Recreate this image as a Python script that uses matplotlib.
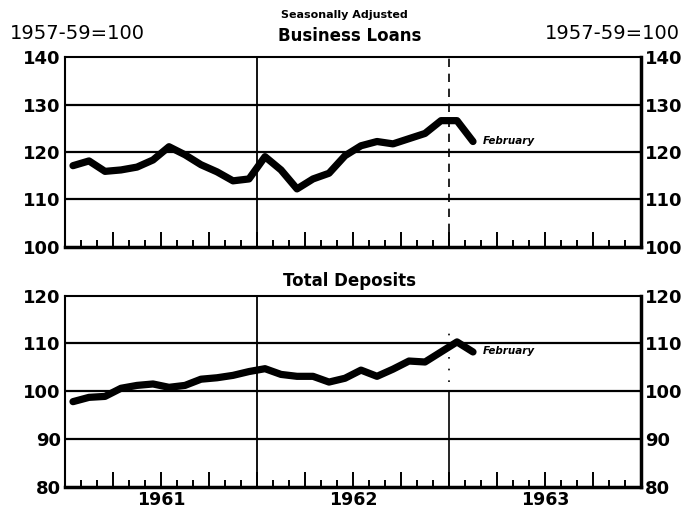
import matplotlib.pyplot as plt
import numpy as np

# monthly data, Jan 1961 .. Feb 1963 (1957-59=100)
months = np.arange(26) + 0.5
loans = [117.1, 118.1, 115.9, 116.2, 116.8, 118.3, 121.1, 119.4, 117.3, 115.8,
         113.9, 114.3, 119.0, 116.2, 112.2, 114.3, 115.5, 119.2, 121.3, 122.2,
         121.7, 122.8, 123.9, 126.6, 126.6, 122.2]
deposits = [97.8, 98.7, 98.9, 100.6, 101.2, 101.5, 100.8, 101.2, 102.5, 102.8,
            103.3, 104.1, 104.7, 103.5, 103.1, 103.1, 101.9, 102.7, 104.4, 103.1,
            104.6, 106.3, 106.1, 108.2, 110.3, 108.2]
years = ["1961", "1962", "1963"]

plt.rcParams['font.family'] = ['DejaVu Sans']

fig = plt.figure(figsize=(6.82, 5.18), dpi=100)
ax1 = fig.add_axes([0.0953, 0.5237, 0.8446, 0.366])
ax2 = fig.add_axes([0.0953, 0.0604, 0.8446, 0.369])


def style(ax, lo, hi):
    ax.set_xlim(0, 36)
    ax.set_ylim(lo, hi)
    ticks = list(range(lo, hi + 1, 10))
    ax.set_yticks(ticks)
    ax.tick_params(axis='y', length=0, labelright=True, labelsize=13, pad=3)
    for lab in ax.get_yticklabels():
        lab.set_fontweight('bold')
    for t in ticks[1:-1]:
        ax.axhline(t, color='black', lw=1.6, zorder=1)
    ax.set_xticks(np.arange(3, 36, 3))
    ax.set_xticks(np.arange(1, 36), minor=True)
    ax.tick_params(axis='x', which='major', direction='in', length=11, width=1.4,
                   labelbottom=False)
    ax.tick_params(axis='x', which='minor', direction='in', length=5, width=1.4)
    for s in ['left', 'top']:
        ax.spines[s].set_linewidth(1.5)
    ax.spines['right'].set_linewidth(2.5)
    ax.spines['bottom'].set_linewidth(2.5)
    ax.axvline(12, color='black', lw=1.3, zorder=1)


style(ax1, 100, 140)
style(ax2, 80, 120)

ax1.axvline(24, color='black', lw=1.2, ls=(0, (5, 4)), zorder=1)
ax2.plot([24, 24], [80, 100], color='black', lw=1.2, zorder=1)
ax2.plot([24, 24], [102, 114], color='black', lw=1.2, ls=(0, (1, 6)), zorder=1)

ax1.plot(months, loans, color='black', lw=5.2, solid_capstyle='round',
         solid_joinstyle='round', zorder=3)
ax2.plot(months, deposits, color='black', lw=5.2, solid_capstyle='round',
         solid_joinstyle='round', zorder=3)

ax1.text(26.1, loans[-1] + 0.1, "February", fontsize=7.5, fontweight='bold',
         style='italic', va='center')
ax2.text(26.1, deposits[-1] + 0.1, "February", fontsize=7.5, fontweight='bold',
         style='italic', va='center')

for i, y in enumerate(years):
    ax2.text(12 * i + 6, -0.07, y, transform=ax2.get_xaxis_transform(),
             ha='center', va='center', fontsize=12.5, fontweight='bold')

fig.text(0.505, 0.971, "Seasonally Adjusted", ha='center', va='center',
         fontsize=8, fontweight='bold')
fig.text(0.014, 0.935, "1957-59=100", ha='left', va='center', fontsize=14)
fig.text(0.997, 0.935, "1957-59=100", ha='right', va='center', fontsize=14)
fig.text(0.513, 0.93, "Business Loans", ha='center', va='center',
         fontsize=12, fontweight='bold')
fig.text(0.513, 0.458, "Total Deposits", ha='center', va='center',
         fontsize=12, fontweight='bold')

fig.savefig("out.png", dpi=100)
